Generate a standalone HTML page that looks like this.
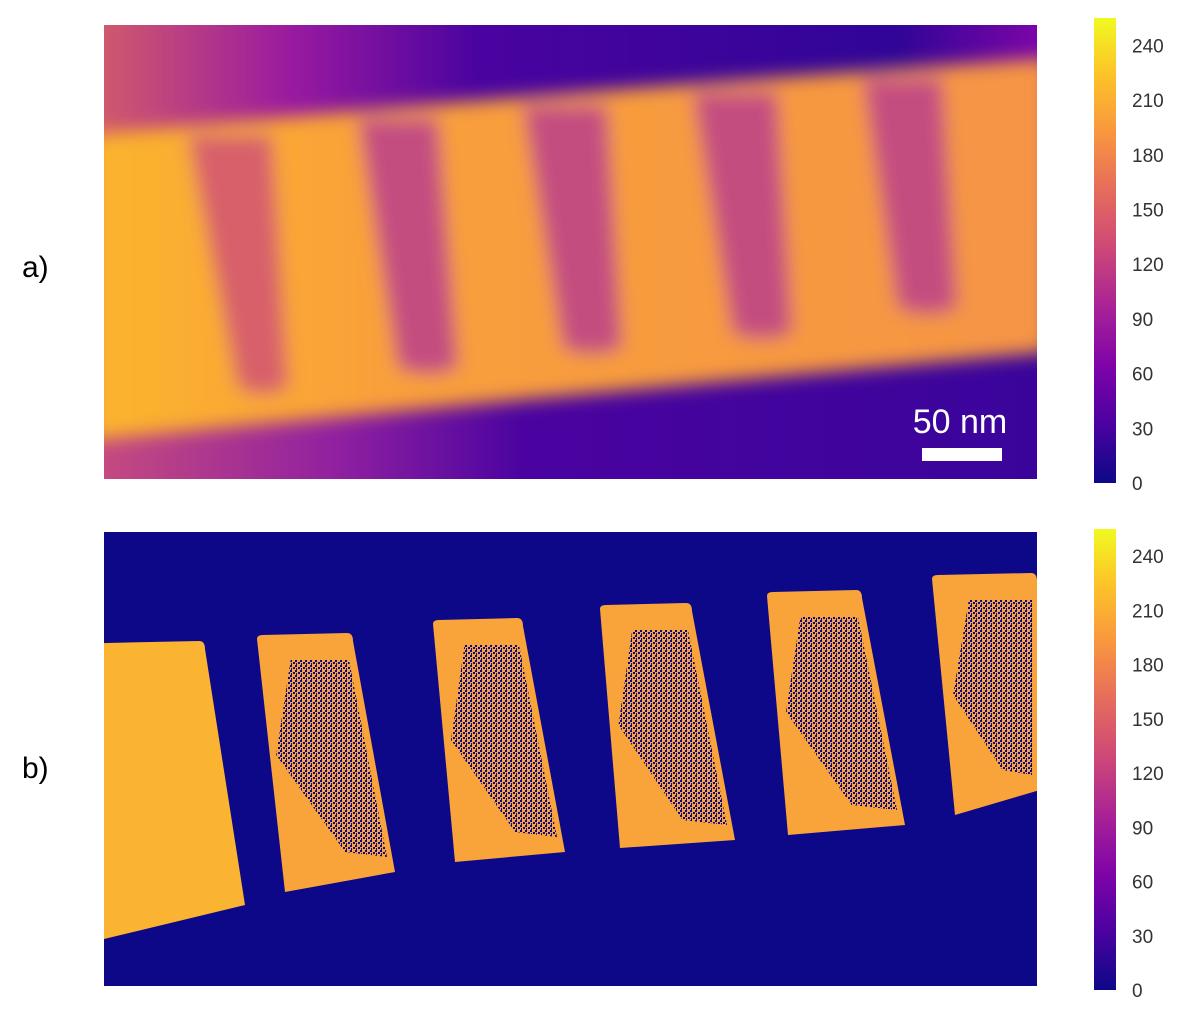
<!DOCTYPE html>
<html><head><meta charset="utf-8"><style>
body{margin:0;background:#fff;width:1185px;height:1036px;overflow:hidden;font-family:"Liberation Sans","DejaVu Sans",sans-serif}
svg{position:absolute;left:0;top:0}
</style></head><body>
<svg id="chart" width="1185" height="1036" viewBox="0 0 1185 1036">
<defs>
<linearGradient id="cmap" x1="0" y1="1" x2="0" y2="0">
<stop offset="0" stop-color="#0d0887"/><stop offset="0.13" stop-color="#4c02a1"/><stop offset="0.25" stop-color="#7e03a8"/><stop offset="0.38" stop-color="#a92395"/><stop offset="0.5" stop-color="#cc4778"/><stop offset="0.63" stop-color="#e66c5c"/><stop offset="0.75" stop-color="#f89540"/><stop offset="0.88" stop-color="#fdc328"/><stop offset="1" stop-color="#f0f921"/>
</linearGradient>
<linearGradient id="topband" x1="0" y1="0" x2="1" y2="0">
<stop offset="0" stop-color="#d0586e"/><stop offset="0.2" stop-color="#9a1aa0"/><stop offset="0.4" stop-color="#4a03a0"/><stop offset="0.85" stop-color="#300597"/><stop offset="1" stop-color="#7a05a8"/>
</linearGradient>
<linearGradient id="botband" x1="0" y1="0" x2="1" y2="0">
<stop offset="0" stop-color="#c44a80"/><stop offset="0.25" stop-color="#9020a0"/><stop offset="0.45" stop-color="#4a03a0"/><stop offset="1" stop-color="#3a049b"/>
</linearGradient>
<linearGradient id="orange" x1="0" y1="0" x2="1" y2="0">
<stop offset="0" stop-color="#fbb42c"/><stop offset="0.3" stop-color="#f9a03a"/><stop offset="1" stop-color="#f59445"/>
</linearGradient>
<pattern id="speckle" width="5" height="5" patternUnits="userSpaceOnUse">
<rect x="0" y="0" width="2" height="2" fill="#0d0887"/><rect x="3" y="2" width="2" height="2" fill="#0d0887"/><rect x="1" y="3" width="1" height="2" fill="#0d0887"/>
</pattern>
<filter id="blur" x="-10%" y="-10%" width="120%" height="120%"><feGaussianBlur stdDeviation="9"/></filter>
<clipPath id="clipA"><rect x="104" y="25" width="933" height="454"/></clipPath>
<clipPath id="clipB"><rect x="104" y="532" width="933" height="454"/></clipPath>
</defs>
<g id="panelA" clip-path="url(#clipA)">
<rect x="104" y="25" width="933" height="454" fill="url(#botband)"/>
<rect x="104" y="25" width="933" height="200" fill="url(#topband)"/>
<g filter="url(#blur)">
<path d="M90,135 Q500,95 1050,58 L1050,352 Q600,392 90,440 Z" fill="url(#orange)"/>
<g id="pillarsA"></g>
</g>
</g>
<text x="960" y="433" font-size="34" fill="#fff" text-anchor="middle">50 nm</text>
<rect x="922" y="448" width="80" height="13" fill="#fff"/>
<g id="panelB" clip-path="url(#clipB)">
<rect x="104" y="532" width="933" height="454" fill="#0d0887"/>
<g id="pillarsB"></g>
</g>
<text x="22" y="277" font-size="30" fill="#000">a)</text>
<text x="22" y="778" font-size="30" fill="#000">b)</text>
<g id="cbA"></g>
<g id="cbB"></g>
</svg>
<script>
const tickValues=[0,30,60,90,120,150,180,210,240];
const cmin=0, cmax=255;
// panel a dark pillars: [topLeftX, topRightX, bottomLeftX, bottomRightX, topY, bottomY]
const pillarsA=[[188,272,238,288,135,388],[358,438,398,458,118,368],[523,607,563,622,105,348],[693,777,733,792,92,333],[863,942,898,957,78,308]];
// panel b bright pillars: [topLeftX, topRightX, bottomLeftX, bottomRightX, topY, bottomLeftY, bottomRightY]
const pillarsB=[[100,205,100,245,643,940,905],[257,353,285,395,635,892,872],[433,523,455,565,620,862,852],[600,692,620,735,605,848,840],[767,862,788,905,592,835,825],[932,1037,955,1040,575,815,790]];
const NS='http://www.w3.org/2000/svg';
function mk(tag,attrs,parent){const e=document.createElementNS(NS,tag);for(const k in attrs)e.setAttribute(k,attrs[k]);parent.appendChild(e);return e;}
const pa=document.getElementById('pillarsA');
pillarsA.forEach((p,i)=>{
 const e=mk('path',{d:`M${p[0]},${p[4]} L${p[1]},${p[4]} L${p[3]},${p[5]} Q${(p[2]+p[3])/2},${p[5]+12} ${p[2]},${p[5]} Z`,fill:i==0?'#d8606a':'#c44e80'},pa);
 
 
});
const pb=document.getElementById('pillarsB');
pillarsB.forEach((p,i)=>{
 const g=mk('g',{},pb);
 
 
 mk('path',{d:`M${p[0]},${p[4]+4} Q${p[0]},${p[4]} ${p[0]+6},${p[4]} L${p[1]-6},${p[4]-2} Q${p[1]},${p[4]-2} ${p[1]},${p[4]+6} L${p[3]},${p[6]} L${p[2]},${p[5]} Z`,fill:i==0?'#fbb431':'#f8a43a'},g);
 if(i>0){
  const w=(p[1]-p[0]);
  mk('path',{d:`M${p[0]+w*0.35},${p[4]+25} L${p[1]-4},${p[4]+25} L${p[3]-8},${p[6]-15} L${(p[2]+p[3])/2+5},${p[6]-20} L${p[0]+w*0.2},${p[4]+120} Z`,fill:'url(#speckle)'},g);
 }
});
function colorbar(id,top,bottom){
 const g=document.getElementById(id);
 const bar=mk('rect',{x:1094,y:top,width:22,height:bottom-top,fill:'url(#cmap)'},g);
 
 
 const y=v=>bottom-(v-cmin)/(cmax-cmin)*(bottom-top);
 tickValues.forEach(v=>{
  const t=mk('text',{x:1132,y:y(v)+7,'font-size':19,fill:'#333'},g);
  t.textContent=v;
  
  
 });
}
colorbar('cbA',18,483);
colorbar('cbB',529,990);
</script>
</body></html>
